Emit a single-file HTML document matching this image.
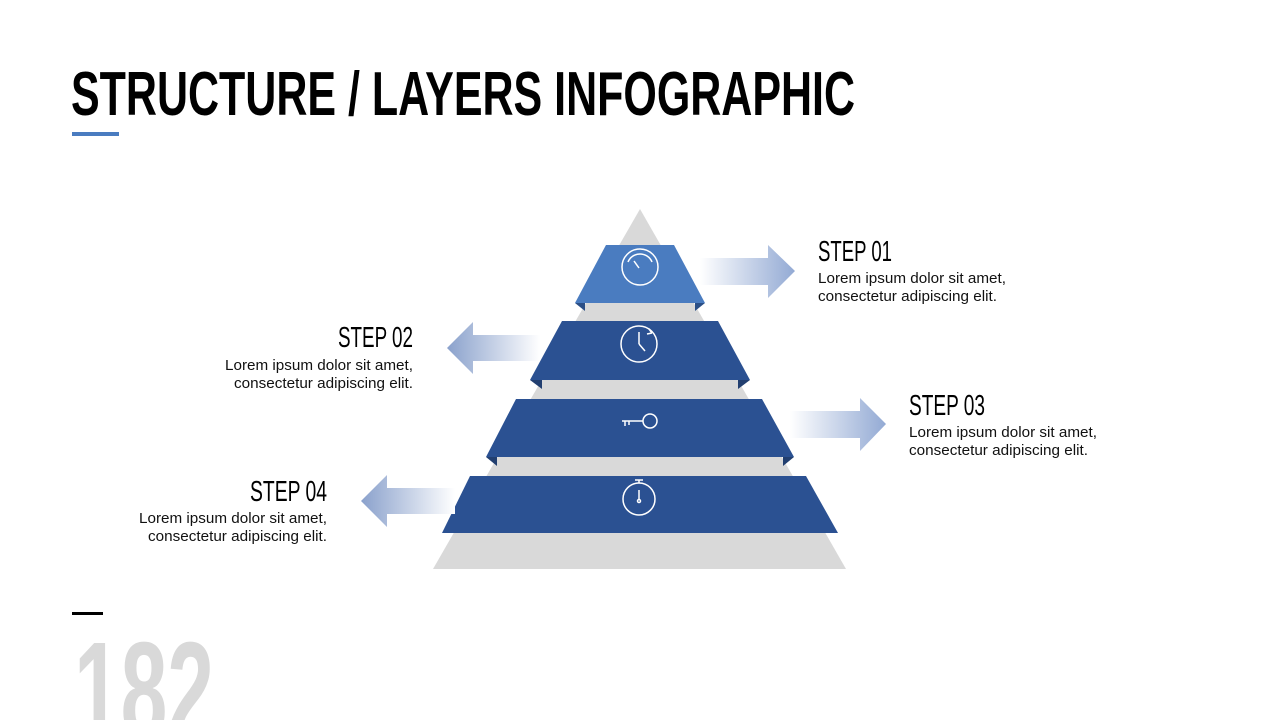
<!DOCTYPE html>
<html><head><meta charset="utf-8"><style>
html,body{margin:0;padding:0;background:#fff;width:1280px;height:720px;overflow:hidden}
svg{display:block;overflow:hidden}
.h{font-family:"Liberation Sans",sans-serif;font-weight:bold;fill:#000}
.s{font-family:"Liberation Sans",sans-serif;font-weight:normal;fill:#000}
.b{font-family:"Liberation Sans",sans-serif;font-size:14.5px;fill:#111}
</style></head><body>
<svg width="1280" height="720" viewBox="0 0 1280 720" xmlns="http://www.w3.org/2000/svg">
<defs>
<linearGradient id="gr" x1="0" x2="1" y1="0" y2="0"><stop offset="0" stop-color="#fff"/><stop offset="1" stop-color="#93aad4"/></linearGradient>
<linearGradient id="gl" x1="0" x2="1" y1="0" y2="0"><stop offset="0" stop-color="#8aa1cc"/><stop offset="1" stop-color="#fff"/></linearGradient>
<clipPath id="c"><rect x="0" y="0" width="1280" height="720"/></clipPath>
</defs>
<g clip-path="url(#c)">
<text class="h" x="71" y="115" font-size="62" textLength="784" lengthAdjust="spacingAndGlyphs">STRUCTURE / LAYERS INFOGRAPHIC</text>
<rect x="72" y="132" width="47" height="4" fill="#4a7cc0"/>

<polygon points="640,209 846,569 433,569" fill="#d9d9d9"/>

<polygon points="575,303 585,303 585,311" fill="#2b4f86"/><polygon points="705,303 695,303 695,311" fill="#2b4f86"/>
<polygon points="606,245 674,245 705,303 575,303" fill="#4a7cc0"/>
<polygon points="530,380 542,380 542,389" fill="#223f70"/><polygon points="750,380 738,380 738,389" fill="#223f70"/>
<polygon points="562,321 718,321 750,380 530,380" fill="#2b5192"/>
<polygon points="486,457 497,457 497,466" fill="#223f70"/><polygon points="794,457 783,457 783,466" fill="#223f70"/>
<polygon points="516,399 762,399 794,457 486,457" fill="#2b5192"/>
<polygon points="470,476 806,476 838,533 442,533" fill="#2b5192"/>

<g fill="none" stroke="#fff" stroke-width="1.5">
<circle cx="640" cy="267" r="18"/><path d="M628,262 A13,13 0 0 1 652,262"/><line x1="634" y1="261" x2="639" y2="268"/>
<circle cx="639" cy="344" r="18"/><line x1="639" y1="332" x2="639" y2="344"/><line x1="639" y1="344" x2="645" y2="351"/><path d="M652,333 l-3,-4 M652,333 l-5,1"/>
<circle cx="650" cy="421" r="7"/><line x1="622" y1="421" x2="643" y2="421"/><line x1="625" y1="421" x2="625" y2="426"/><line x1="629" y1="421" x2="629" y2="425"/>
<circle cx="639" cy="499" r="16"/><line x1="639" y1="483" x2="639" y2="480"/><line x1="635" y1="480" x2="643" y2="480"/><line x1="639" y1="490" x2="639" y2="500"/><circle cx="639" cy="501" r="1.5"/>
</g>

<polygon points="700,258 768,258 768,245 795,271 768,298 768,285 700,285" fill="url(#gr)"/>
<polygon points="540,335 473,335 473,322 447,348 473,374 473,361 540,361" fill="url(#gl)"/>
<polygon points="790,411 860,411 860,398 886,424 860,451 860,438 790,438" fill="url(#gr)"/>
<polygon points="455,488 387,488 387,475 361,501 387,527 387,514 455,514" fill="url(#gl)"/>

<text class="s" x="818" y="261" font-size="29" textLength="74" lengthAdjust="spacingAndGlyphs">STEP 01</text>
<text class="b" x="818" y="283" textLength="188" lengthAdjust="spacingAndGlyphs">Lorem ipsum dolor sit amet,</text>
<text class="b" x="818" y="301" textLength="179" lengthAdjust="spacingAndGlyphs">consectetur adipiscing elit.</text>

<text class="s" x="413" y="347" font-size="29" text-anchor="end" textLength="75" lengthAdjust="spacingAndGlyphs">STEP 02</text>
<text class="b" x="413" y="370" text-anchor="end" textLength="188" lengthAdjust="spacingAndGlyphs">Lorem ipsum dolor sit amet,</text>
<text class="b" x="413" y="388" text-anchor="end" textLength="179" lengthAdjust="spacingAndGlyphs">consectetur adipiscing elit.</text>

<text class="s" x="909" y="415" font-size="29" textLength="76" lengthAdjust="spacingAndGlyphs">STEP 03</text>
<text class="b" x="909" y="437" textLength="188" lengthAdjust="spacingAndGlyphs">Lorem ipsum dolor sit amet,</text>
<text class="b" x="909" y="455" textLength="179" lengthAdjust="spacingAndGlyphs">consectetur adipiscing elit.</text>

<text class="s" x="327" y="501" font-size="29" text-anchor="end" textLength="77" lengthAdjust="spacingAndGlyphs">STEP 04</text>
<text class="b" x="327" y="523" text-anchor="end" textLength="188" lengthAdjust="spacingAndGlyphs">Lorem ipsum dolor sit amet,</text>
<text class="b" x="327" y="541" text-anchor="end" textLength="179" lengthAdjust="spacingAndGlyphs">consectetur adipiscing elit.</text>

<rect x="72" y="612" width="31" height="3" fill="#000"/>
<text x="74" y="738" font-family="Liberation Sans,sans-serif" font-weight="bold" font-size="138" fill="#d9d9d9" textLength="140" lengthAdjust="spacingAndGlyphs">182</text>
</g>
</svg>
</body></html>
